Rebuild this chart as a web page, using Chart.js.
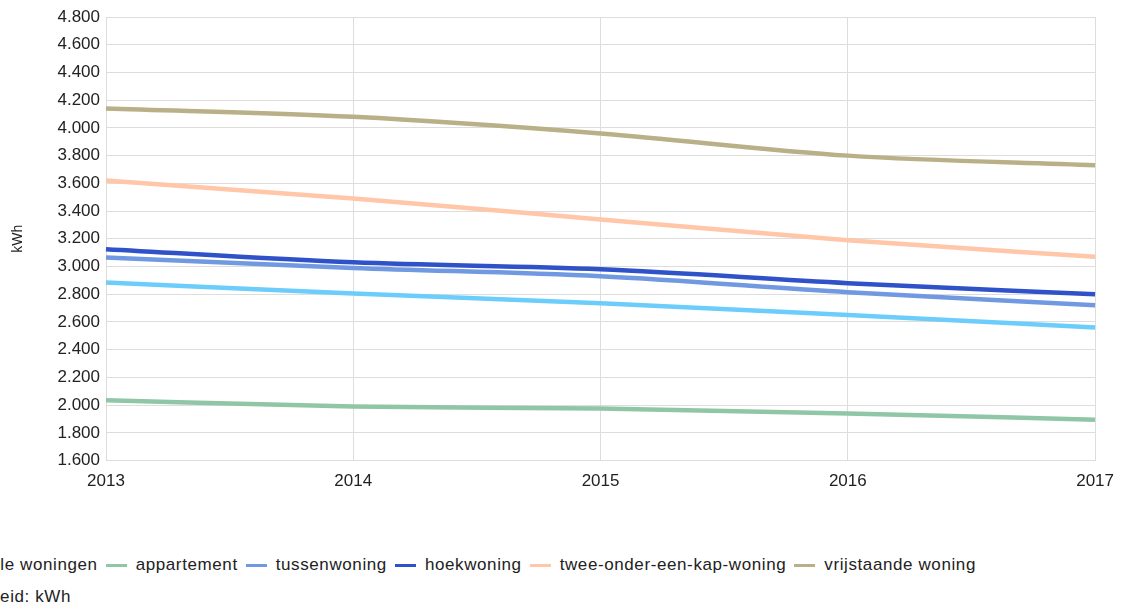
<!DOCTYPE html>
<html><head><meta charset="utf-8">
<script src="https://cdn.jsdelivr.net/npm/chart.js@4"></script>
<style>
html,body{margin:0;padding:0;background:#fff;overflow:hidden;width:1125px;height:610px;}
#wrap{position:absolute;left:0;top:0;width:1125px;height:506px;}
#legend{position:absolute;left:-16px;top:554px;font-family:"Liberation Sans",Arial,sans-serif;font-size:17px;letter-spacing:0.6px;color:#222;white-space:nowrap;display:flex;align-items:center;line-height:22px;}
#legend .it{display:flex;align-items:center;margin-right:8px;}
#legend .mk{display:inline-block;width:21px;height:3px;margin-right:9px;}
#unit{position:absolute;left:-42px;top:586px;font-family:"Liberation Sans",Arial,sans-serif;font-size:17px;letter-spacing:0.6px;color:#222;white-space:nowrap;line-height:22px;}
</style></head>
<body>
<div id="wrap"><canvas id="c"></canvas></div>
<div id="legend"></div>
<div id="unit">Eenheid: kWh</div>
<script>
const years = ["2013","2014","2015","2016","2017"];
const alleWoningen = [2885, 2805, 2735, 2650, 2560];
const appartement = [2035, 1990, 1975, 1940, 1895];
const tussenwoning = [3065, 2990, 2930, 2815, 2720];
const hoekwoning = [3125, 3030, 2980, 2880, 2800];
const tweeOnderEenKap = [3620, 3490, 3340, 3190, 3070];
const vrijstaande = [4140, 4080, 3960, 3800, 3730];
const seriesNames = ["Alle woningen","appartement","tussenwoning","hoekwoning","twee-onder-een-kap-woning","vrijstaande woning"];
const seriesColors = ["#6ccdfa","#8fc7a6","#7199e2","#2f52c9","#ffc6a8","#b9b088"];
const seriesData = [alleWoningen, appartement, tussenwoning, hoekwoning, tweeOnderEenKap, vrijstaande];
const yMin = 1600, yMax = 4800, yStep = 200;

const fmt = v => { const s = String(Math.round(v)); return s.length>3 ? s.slice(0,-3)+"."+s.slice(-3) : s; };

const datasets = seriesNames.map((n,i)=>({
  label:n, data:seriesData[i], borderColor:seriesColors[i], backgroundColor:seriesColors[i],
  borderWidth:4.5, pointRadius:0, cubicInterpolationMode:'monotone', fill:false
}));

const font = {family:"'Liberation Sans', Arial, sans-serif", size:17};
new Chart(document.getElementById('c'), {
  type:'line',
  data:{labels:years, datasets},
  options:{
    responsive:true, maintainAspectRatio:false, animation:false,
    layout:{padding:{top:17,right:28,left:0,bottom:3}},
    plugins:{legend:{display:false}, tooltip:{enabled:false}},
    scales:{
      x:{offset:false, grid:{color:'#dddddd',lineWidth:1, drawTicks:false}, border:{color:'#dddddd'},
         ticks:{color:'#222', font, padding:11, maxRotation:0}},
      y:{min:yMin, max:yMax, grid:{color:'#dddddd', drawTicks:false}, border:{color:'#dddddd'},
         ticks:{stepSize:yStep, color:'#222', font, padding:6, callback:v=>fmt(v)},
         afterFit:s=>{s.width=106;},
         title:{display:true, text:'kWh', color:'#222', font:{family:font.family,size:14}, padding:{top:10,bottom:0}}}
    }
  }
});

const lg = document.getElementById('legend');
seriesNames.forEach((n,i)=>{
  const it=document.createElement('span'); it.className='it';
  if(i>0){const m=document.createElement('span'); m.className='mk'; m.style.background=seriesColors[i]; it.appendChild(m);}
  const t=document.createElement('span'); t.textContent=n; it.appendChild(t);
  lg.appendChild(it);
});
</script>
</body></html>
